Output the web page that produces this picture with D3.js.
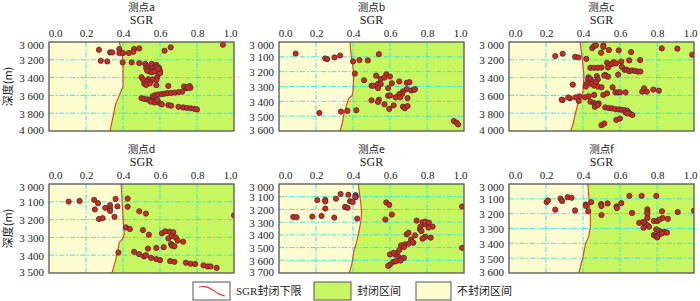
<!DOCTYPE html>
<html><head><meta charset="utf-8">
<script src="https://cdn.jsdelivr.net/npm/d3@7"></script>
<style>body{margin:0;background:#fff}svg{display:block}</style>
</head><body>
<svg id="chart" width="700" height="301"></svg>
<script>
const titles = ["测点a","测点b","测点c","测点d","测点e","测点f"];
const xTicks = [0.0,0.2,0.4,0.6,0.8,1.0];
const depthDomains = [[3000,4000],[3000,3600],[3000,4000],[3000,3500],[3000,3700],[3000,3600]];
const depthTicks = [
  [3000,3200,3400,3600,3800,4000],
  [3000,3100,3200,3300,3400,3500,3600],
  [3000,3200,3400,3600,3800,4000],
  [3000,3100,3200,3300,3400,3500],
  [3000,3100,3200,3300,3400,3500,3600,3700],
  [3000,3100,3200,3300,3400,3500,3600]
];
const legendLabels = ["SGR封闭下限","封闭区间","不封闭区间"];

// SGR lower limit (boundary) [SGR, depth]
const boundaryA = [[0.38,3000],[0.39,3100],[0.40,3200],[0.40,3300],[0.40,3400],[0.40,3500],[0.39,3550],[0.38,3600],[0.36,3700],[0.35,3800],[0.34,3900],[0.33,4000]];
const boundaryB = [[0.384,3000],[0.388,3067],[0.396,3133],[0.405,3222],[0.40,3333],[0.395,3360],[0.378,3378],[0.366,3422],[0.35,3489],[0.343,3544],[0.33,3600]];
const boundaryC = [[0.384,3000],[0.396,3189],[0.405,3377],[0.40,3566],[0.393,3603],[0.375,3679],[0.36,3792],[0.346,3924],[0.334,4000]];
const boundaryD = [[0.39,3000],[0.395,3095],[0.40,3188],[0.407,3281],[0.398,3309],[0.38,3327],[0.372,3374],[0.36,3430],[0.34,3500]];
const boundaryE = [[0.429,3000],[0.438,3106],[0.447,3211],[0.443,3290],[0.429,3396],[0.416,3475],[0.405,3528],[0.393,3634],[0.38,3700]];
const boundaryF = [[0.426,3000],[0.433,3111],[0.44,3222],[0.44,3289],[0.431,3355],[0.414,3400],[0.40,3489],[0.378,3600]];

// measured points [SGR, depth]
const pointsA = [[0.27,3088],[0.33,3117],[0.342,3117],[0.28,3211],[0.315,3219],[0.38,3079],[0.38,3124],[0.40,3124],[0.432,3124],[0.46,3079],[0.456,3110],[0.488,3072],[0.625,3098],[0.658,3060],[0.94,3030],
[0.398,3230],[0.447,3230],[0.488,3237],[0.52,3245],[0.53,3272],[0.555,3245],[0.58,3256],
[0.525,3290],[0.535,3305],[0.55,3318],[0.56,3300],[0.57,3315],[0.585,3310],[0.595,3290],[0.60,3320],[0.59,3340],[0.60,3350],[0.54,3330],[0.555,3340],[0.57,3330],[0.53,3320],[0.58,3280],[0.59,3300],
[0.585,3396],[0.58,3426],[0.50,3396],[0.51,3426],[0.537,3418],[0.53,3445],[0.55,3440],[0.56,3420],[0.515,3470],[0.525,3482],[0.545,3465],[0.58,3485],[0.645,3494],
[0.73,3500],[0.745,3520],[0.76,3495],[0.765,3515],[0.75,3508],
[0.56,3610],[0.575,3595],[0.59,3590],[0.61,3585],[0.625,3580],[0.64,3575],[0.66,3572],[0.68,3568],[0.70,3563],[0.72,3558],
[0.50,3630],[0.515,3640],[0.53,3645],[0.545,3650],[0.56,3660],[0.575,3665],[0.59,3675],[0.60,3690],[0.57,3680],[0.55,3670],[0.585,3650],[0.61,3700],
[0.645,3709],[0.66,3715],[0.70,3728],[0.725,3735],[0.745,3740],[0.765,3745],[0.785,3750],[0.80,3758]];
const pointsB = [[0.09,3078],[0.25,3111],[0.26,3115],[0.30,3104],[0.33,3091],[0.40,3131],[0.435,3122],[0.48,3124],[0.54,3082],
[0.41,3213],[0.46,3258],[0.525,3227],[0.55,3249],[0.58,3218],[0.57,3240],[0.60,3233],[0.50,3295],[0.51,3295],[0.535,3282],[0.55,3284],[0.535,3311],
[0.61,3278],[0.65,3266],[0.69,3275],[0.705,3271],[0.59,3311],[0.69,3318],[0.715,3327],[0.73,3322],[0.735,3318],[0.67,3333],[0.665,3351],[0.65,3351],
[0.63,3373],[0.655,3373],[0.59,3362],[0.60,3360],[0.695,3378],[0.50,3393],[0.54,3389],[0.535,3404],[0.57,3420],[0.62,3427],[0.596,3451],
[0.67,3436],[0.68,3447],[0.695,3432],[0.218,3478],[0.335,3469],[0.37,3464],[0.418,3460],[0.945,3533],[0.96,3544],[0.968,3556]];
const pointsC = [[0.25,3158],[0.29,3132],[0.357,3166],[0.375,3173],[0.418,3189],[0.45,3068],[0.46,3045],[0.47,3038],[0.51,3038],[0.51,3057],[0.54,3090],[0.498,3121],[0.593,3094],[0.66,3113],[0.826,3072],[0.91,3075],[0.99,3143],
[0.44,3290],[0.46,3290],[0.48,3290],[0.50,3287],[0.53,3234],[0.54,3264],[0.535,3287],[0.555,3249],[0.565,3226],[0.578,3241],[0.607,3219],[0.65,3207],[0.709,3204],
[0.61,3279],[0.625,3313],[0.635,3309],[0.65,3328],[0.665,3320],[0.68,3324],[0.695,3332],[0.71,3332],
[0.43,3396],[0.428,3422],[0.44,3415],[0.452,3445],[0.445,3471],[0.475,3384],[0.48,3422],[0.47,3452],[0.52,3370],[0.535,3390],[0.515,3377],[0.59,3366],
[0.42,3471],[0.415,3501],[0.46,3490],[0.48,3501],[0.50,3509],[0.345,3479],[0.56,3509],
[0.46,3595],[0.43,3610],[0.41,3622],[0.38,3610],[0.36,3622],[0.33,3633],[0.32,3622],[0.29,3652],[0.285,3648],[0.377,3663],[0.51,3595],[0.53,3577],
[0.575,3566],[0.59,3566],[0.60,3566],[0.63,3566],[0.72,3558],[0.73,3520],[0.745,3558],[0.78,3535],[0.81,3547],
[0.44,3671],[0.46,3686],[0.47,3698],[0.485,3690],[0.464,3728],[0.48,3709],
[0.52,3735],[0.54,3743],[0.557,3746],[0.575,3754],[0.593,3758],[0.61,3762],[0.625,3765],[0.64,3773],[0.645,3792],[0.655,3806],[0.667,3820],[0.63,3792],[0.64,3803],
[0.58,3875],[0.60,3860],[0.50,3935],[0.515,3916]];
const pointsD = [[0.106,3099],[0.165,3095],[0.244,3089],[0.265,3108],[0.248,3143],[0.304,3134],[0.33,3119],[0.33,3140],[0.33,3151],[0.36,3084],[0.37,3126],[0.27,3197],[0.29,3192],[0.354,3184],
[0.425,3082],[0.425,3128],[0.488,3153],[0.524,3166],[0.416,3244],[0.437,3253],[0.508,3259],[0.54,3285],
[0.61,3277],[0.628,3266],[0.651,3268],[0.672,3271],[0.646,3306],[0.664,3292],[0.685,3300],[0.695,3318],[0.66,3337],[0.664,3346],[0.678,3350],[0.725,3324],
[0.58,3359],[0.62,3355],[0.535,3363],[0.375,3385],[0.46,3381],[0.487,3394],[0.513,3407],[0.524,3400],[0.552,3415],[0.58,3422],[0.60,3428],
[0.655,3433],[0.678,3437],[0.74,3442],[0.765,3448],[0.79,3450],[0.835,3457],[0.858,3463],[0.873,3463],[0.906,3471],[1.0,3176]];
const pointsE = [[0.207,3127],[0.25,3124],[0.25,3137],[0.25,3193],[0.308,3116],[0.333,3079],[0.375,3084],[0.414,3087],[0.416,3100],[0.412,3105],[0.384,3135],[0.398,3143],[0.357,3180],[0.371,3187],
[0.077,3259],[0.095,3261],[0.18,3256],[0.23,3251],[0.299,3264],[0.423,3272],
[0.58,3145],[0.596,3164],[0.61,3240],[0.575,3280],[0.744,3288],[0.776,3301],[0.79,3317],[0.79,3296],[0.81,3304],[0.83,3335],[0.765,3335],[0.762,3356],[0.77,3370],[0.808,3343],
[0.79,3415],[0.776,3430],[0.82,3422],[0.69,3396],[0.70,3383],[0.735,3404],[0.714,3436],[0.726,3462],[0.72,3457],[0.68,3475],[0.70,3470],[0.66,3483],[0.675,3496],
[0.65,3520],[0.636,3546],[0.627,3554],[0.60,3554],[0.62,3541],[0.645,3573],[0.663,3586],[0.675,3581],[0.657,3602],[0.618,3612],[0.632,3607],[0.60,3634],[0.59,3644],
[0.99,3177],[0.99,3502]];
const pointsF = [[0.203,3122],[0.211,3111],[0.278,3098],[0.287,3115],[0.317,3089],[0.338,3093],[0.25,3173],[0.357,3178],[0.415,3138],[0.417,3149],[0.444,3122],[0.428,3184],
[0.498,3135],[0.50,3149],[0.533,3131],[0.581,3151],[0.583,3162],[0.607,3129],[0.651,3080],[0.717,3080],[0.796,3080],[0.50,3209],[0.665,3195],
[0.748,3171],[0.748,3189],[0.748,3200],[0.748,3229],[0.827,3184],[0.912,3189],[1.0,3180],
[0.704,3262],[0.725,3255],[0.736,3266],[0.748,3278],[0.757,3288],[0.727,3295],[0.783,3249],[0.801,3251],[0.813,3240],[0.831,3229],[0.859,3235],
[0.796,3306],[0.81,3315],[0.824,3322],[0.842,3322],[0.854,3328],[0.783,3344],[0.792,3351],[0.801,3351],[0.813,3340],[0.827,3333],[0.801,3360]];

const boundaries = [boundaryA,boundaryB,boundaryC,boundaryD,boundaryE,boundaryF];
const pointSets = [pointsA,pointsB,pointsC,pointsD,pointsE,pointsF];

const GREEN = "#c6f761", CREAM = "#fefdcf", GRID = "#1fe3f0", RED = "#ee3524";
const svg = d3.select("#chart");
const colX = [49,279,509], rowY = [42,184], PW = 185, PH = 89;
const serif = "'Liberation Serif','DejaVu Serif',serif";
const cjk = "'Noto Sans CJK SC','Liberation Serif',serif";

titles.forEach((t,i)=>{
  const x0 = colX[i%3], y0 = rowY[Math.floor(i/3)];
  const g = svg.append("g").attr("transform",`translate(${x0},${y0})`);
  const x = d3.scaleLinear().domain([0,1]).range([0,PW]);
  const y = d3.scaleLinear().domain(depthDomains[i]).range([0,PH]);
  const clipId = "clip"+i;
  g.append("clipPath").attr("id",clipId).append("rect").attr("width",PW).attr("height",PH);
  const inner = g.append("g").attr("clip-path",`url(#${clipId})`);
  inner.append("rect").attr("width",PW).attr("height",PH).attr("fill",GREEN);
  const area = d3.area().x0(0).x1(d=>x(d[0])).y(d=>y(d[1]));
  inner.append("path").datum(boundaries[i]).attr("d",area).attr("fill",CREAM);
  // grid
  inner.selectAll(".vg").data(xTicks.slice(1,-1)).join("line")
    .attr("x1",d=>x(d)).attr("x2",d=>x(d)).attr("y1",0).attr("y2",PH)
    .attr("stroke",GRID).attr("stroke-width",0.9).attr("stroke-dasharray","5,2,1.5,2");
  inner.selectAll(".hg").data(depthTicks[i].slice(1,-1)).join("line")
    .attr("y1",d=>y(d)).attr("y2",d=>y(d)).attr("x1",0).attr("x2",PW)
    .attr("stroke",GRID).attr("stroke-width",0.9).attr("stroke-dasharray","5,2,1.5,2");
  inner.append("path").datum(boundaries[i])
    .attr("d",d3.line().x(d=>x(d[0])).y(d=>y(d[1])))
    .attr("fill","none").attr("stroke",RED).attr("stroke-width",1.1);
  inner.selectAll("circle").data(pointSets[i]).join("circle")
    .attr("cx",d=>x(d[0])).attr("cy",d=>y(d[1])).attr("r",2.6)
    .attr("fill","#e3201c").attr("stroke","#3a3a3a").attr("stroke-width",0.9);
  g.append("rect").attr("width",PW).attr("height",PH).attr("fill","none")
    .attr("stroke","#555").attr("stroke-width",1.3);
  // top axis labels
  const xa = d3.axisTop(x).tickValues(xTicks).tickSize(0).tickFormat(d3.format(".1f"));
  const xg = g.append("g").call(xa);
  xg.select(".domain").remove();
  xg.selectAll("text").attr("font-family",serif).attr("font-size",11).attr("fill","#222")
    .attr("y",-5)
    .attr("dx",(d,k)=> k===0?6:(k===xTicks.length-1?-4:0));
  // left axis labels
  const ya = d3.axisLeft(y).tickValues(depthTicks[i]).tickSize(0)
    .tickFormat(d=>d3.format(",")(d).replace(",", " "));
  const yg = g.append("g").call(ya);
  yg.select(".domain").remove();
  yg.selectAll("text").attr("font-family",serif).attr("font-size",11).attr("fill","#222")
    .attr("x",-5)
    .attr("dy",(d,k)=> k===0?"0.55em":(k===depthTicks[i].length-1?"0.2em":"0.36em"));
  // titles
  g.append("text").attr("x",PW/2).attr("y",-31).attr("text-anchor","middle")
    .attr("font-family",cjk).attr("font-size",10.5).attr("fill","#222").text(t);
  g.append("text").attr("x",PW/2).attr("y",-18).attr("text-anchor","middle")
    .attr("font-family",serif).attr("font-size",12).attr("fill","#222").text("SGR");
  if(i%3===0){
    g.append("text").attr("transform",`translate(${-41},${PH/2}) rotate(-90)`)
      .attr("text-anchor","middle").attr("dy","0.35em")
      .attr("font-family",cjk).attr("font-size",11).attr("fill","#222").text("深度(m)");
  }
});

// legend
const lg = svg.append("g");
const boxes = [[193,37],[314,37],[416,35]];
const fills = ["#fff",GREEN,CREAM];
legendLabels.forEach((lab,k)=>{
  lg.append("rect").attr("x",boxes[k][0]).attr("y",282).attr("width",boxes[k][1]).attr("height",18)
    .attr("fill",fills[k]).attr("stroke","#555").attr("stroke-width",1);
  lg.append("text").attr("x",boxes[k][0]+boxes[k][1]+6).attr("y",291).attr("dy","0.35em")
    .attr("font-family",k===0?serif:cjk).attr("font-size",11).attr("fill","#222")
    .selectAll("tspan").data(k===0?[["SGR",serif],["封闭下限",cjk]]:[[lab,cjk]]).join("tspan")
    .attr("font-family",d=>d[1]).text(d=>d[0]);
});
lg.append("path")
  .attr("d",d3.line().curve(d3.curveBasis)([[199,287],[205,286],[212,289],[218,294],[225,296]]))
  .attr("fill","none").attr("stroke",RED).attr("stroke-width",1.1);
</script>
</body></html>
